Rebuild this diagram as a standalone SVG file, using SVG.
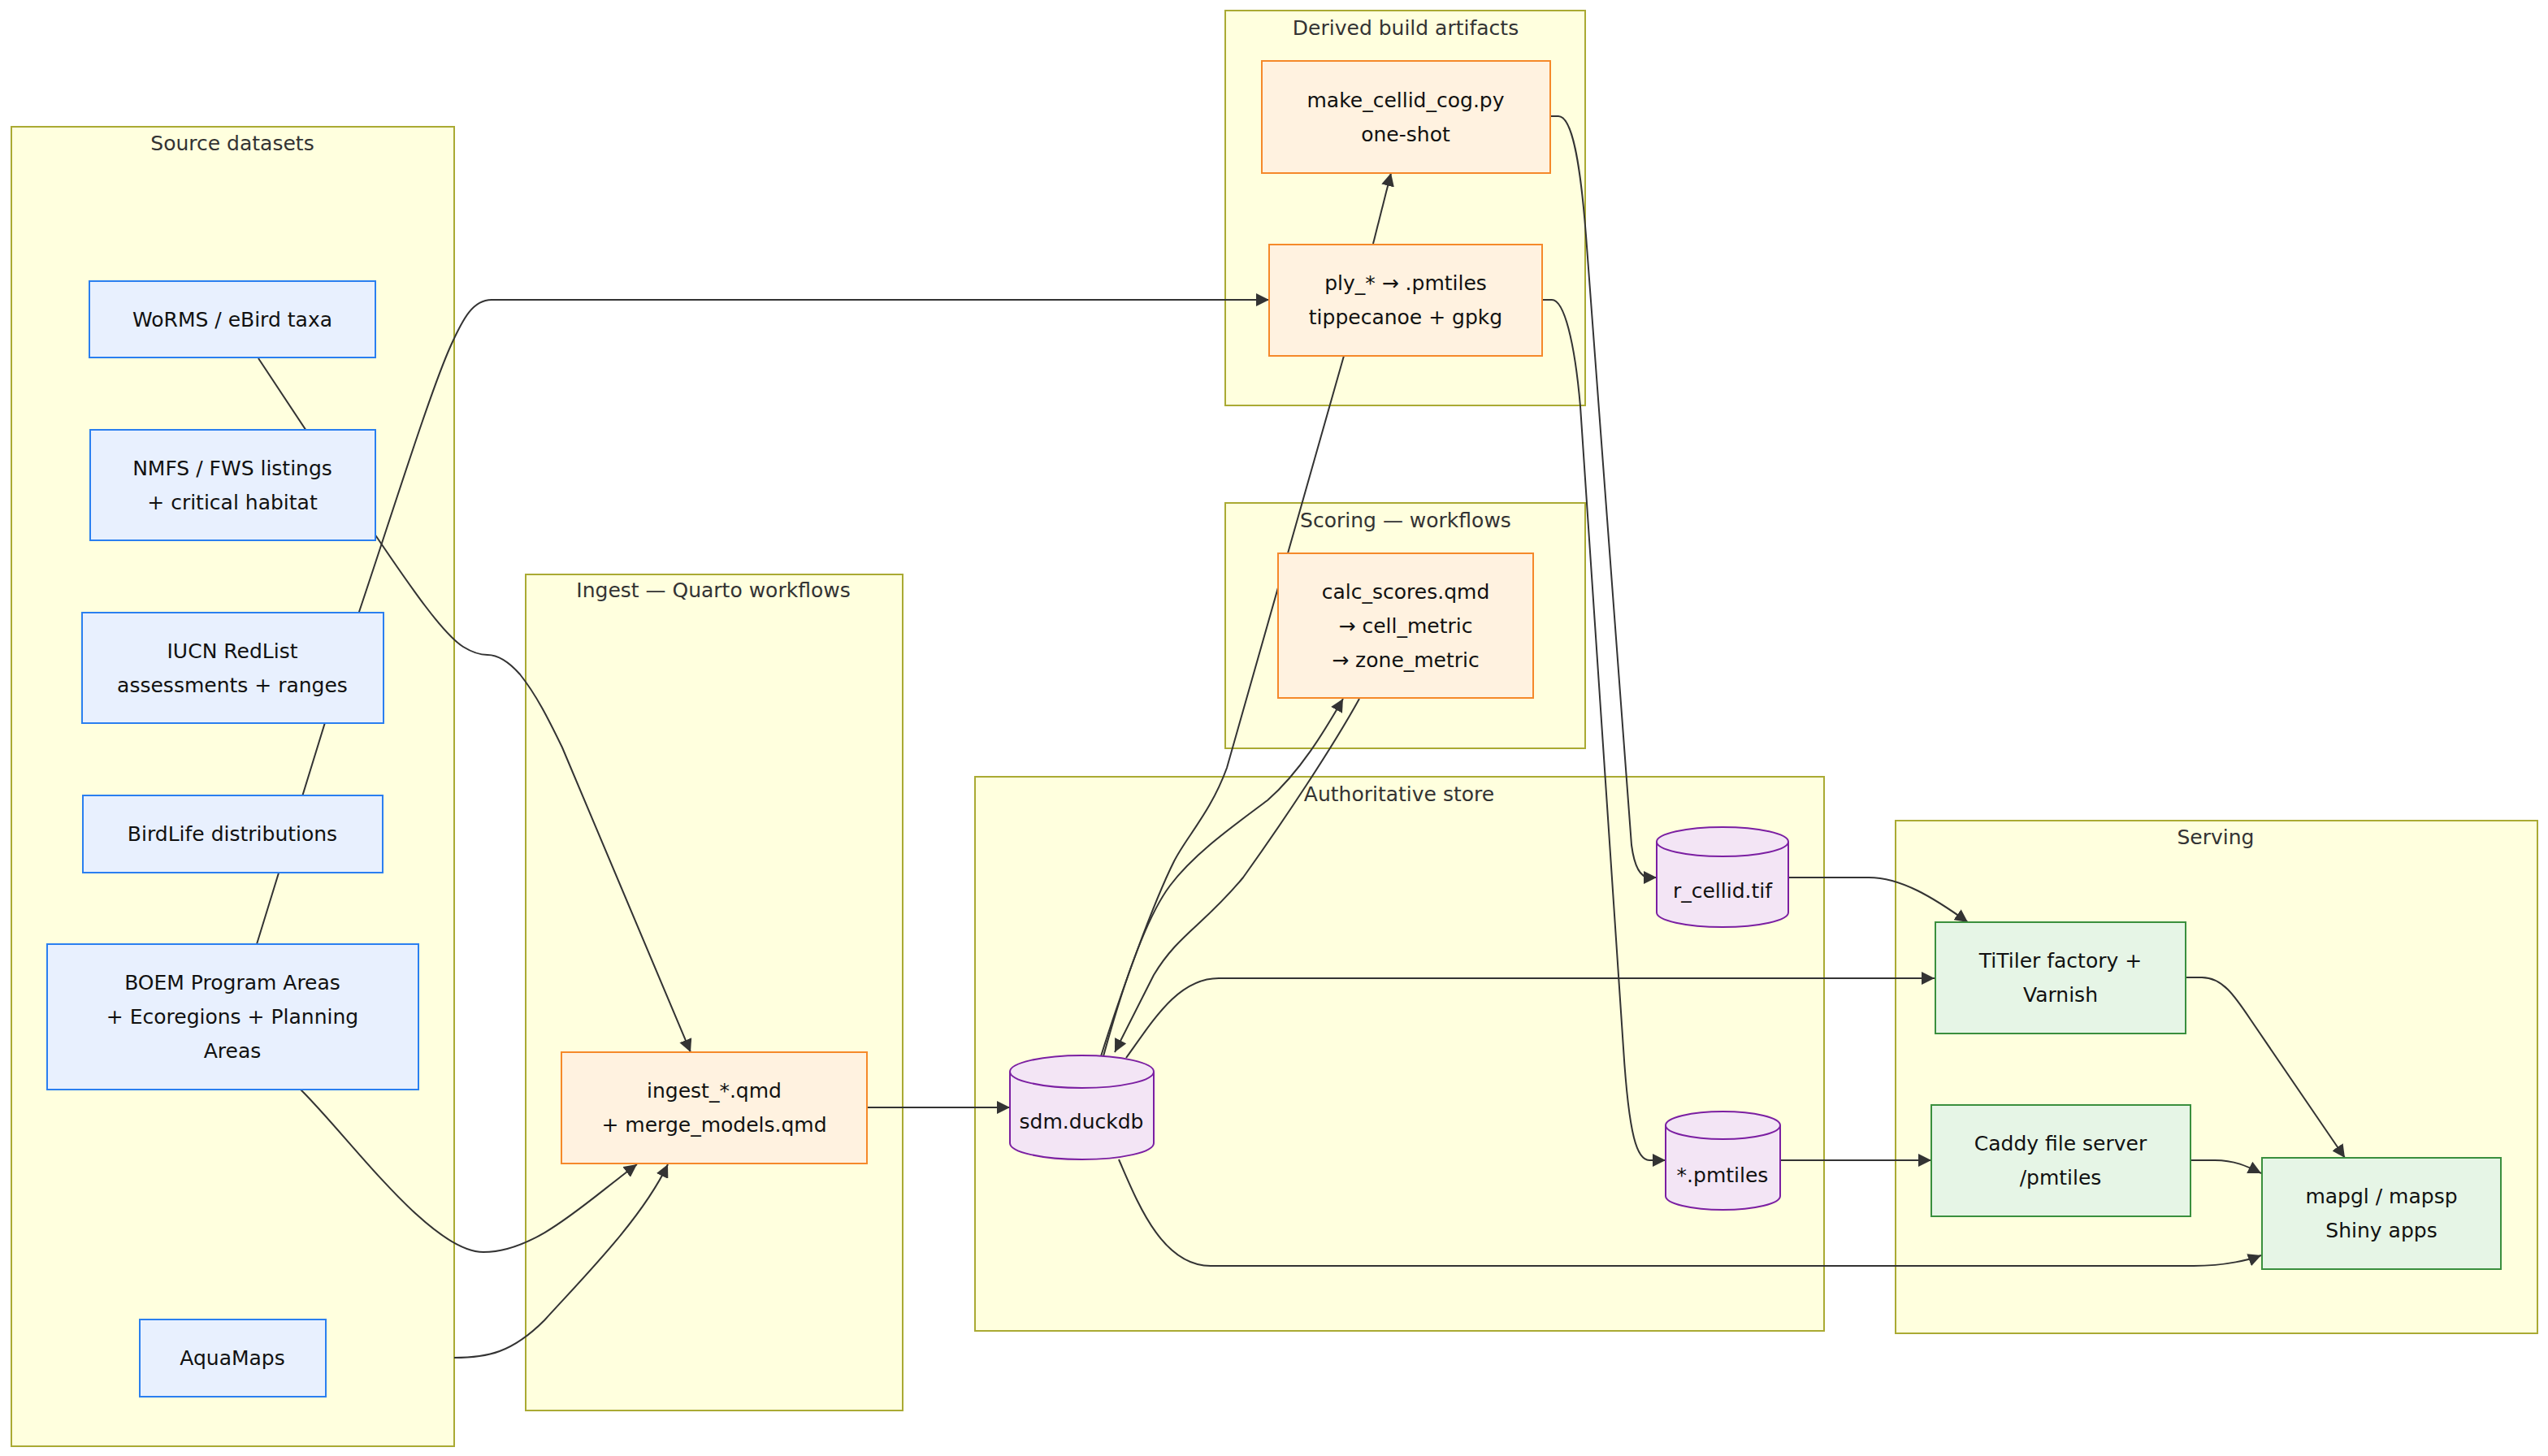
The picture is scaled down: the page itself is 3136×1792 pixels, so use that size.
<svg xmlns="http://www.w3.org/2000/svg" width="3136" height="1792" viewBox="0 0 3136 1792">
<style>
text{font-family:"DejaVu Sans","Verdana",sans-serif;font-size:25px;text-anchor:middle;dominant-baseline:central;fill:#111}
.ct{fill:#333}
.cl{fill:#ffffde;stroke:#aaaa33;stroke-width:2}
.src{fill:#e8f0fe;stroke:#2a7ff0;stroke-width:2}
.job{fill:#fff2e0;stroke:#f5892a;stroke-width:2}
.db{fill:#f3e5f5;stroke:#7b1fa2;stroke-width:2}
.srv{fill:#e6f5e6;stroke:#3a8f3e;stroke-width:2}
.e{fill:none;stroke:#333;stroke-width:2}
.a{marker-end:url(#arr)}
</style>
<defs>
<marker id="arr" viewBox="0 0 10 10" refX="10" refY="5" markerUnits="userSpaceOnUse" markerWidth="16" markerHeight="16" orient="auto">
<path d="M0,0 L10,5 L0,10 z" fill="#333"/>
</marker>
</defs>
<rect width="3136" height="1792" fill="#fff"/>
<g id="clusters">
<g id="cl-source"><rect class="cl" x="14" y="156" width="545" height="1624"/><text class="ct" x="286" y="176">Source datasets</text></g>
<g id="cl-ingest"><rect class="cl" x="647" y="707" width="464" height="1029"/><text class="ct" x="878" y="726">Ingest — Quarto workflows</text></g>
<g id="cl-derived"><rect class="cl" x="1508" y="13" width="443" height="486"/><text class="ct" x="1730" y="34">Derived build artifacts</text></g>
<g id="cl-scoring"><rect class="cl" x="1508" y="619" width="443" height="302"/><text class="ct" x="1730" y="640">Scoring — workflows</text></g>
<g id="cl-store"><rect class="cl" x="1200" y="956" width="1045" height="682"/><text class="ct" x="1722" y="977">Authoritative store</text></g>
<g id="cl-serving"><rect class="cl" x="2333" y="1010" width="790" height="631"/><text class="ct" x="2727" y="1030">Serving</text></g>
</g>
<g id="connectors">
<path class="e a" d="M318,441 L463,660 C505,722 545,780 570,796 C583,804 592,806 600,806 C612,806 624,812 640,830 C660,855 675,885 692,920 L850,1295"/>
<path class="e a" d="M316,1162 L442,753 C480,640 530,480 555,425 C570,392 582,369 605,369 L1562,369"/>
<path class="e a" d="M370,1341 C430,1400 530,1541 595,1541 C660,1541 720,1480 784,1433"/>
<path class="e a" d="M559,1671 C600,1671 630,1665 670,1625 C720,1570 790,1500 822,1433"/>
<path class="e a" d="M1067,1363 L1243,1363"/>
<path class="e a" d="M1690,300 L1712,213"/>
<path class="e a" d="M1908,143 L1918,143 C1935,143 1945,200 1952,290 L2008,1040 C2012,1070 2020,1080 2030,1080 L2039,1080"/>
<path class="e a" d="M1898,369 L1910,369 C1925,369 1938,420 1945,500 L1998,1290 C2005,1400 2015,1428 2030,1428 L2050,1428"/>
<path class="e" d="M1654,438 L1510,945 C1490,1000 1460,1030 1445,1060 C1420,1110 1380,1220 1355,1300"/>
<path class="e a" d="M1358,1300 C1380,1220 1410,1130 1440,1090 C1470,1050 1520,1015 1560,985 C1600,950 1630,900 1653,860"/>
<path class="e a" d="M1673,860 C1640,920 1580,1010 1530,1080 C1480,1140 1450,1150 1420,1200 L1372,1295"/>
<path class="e a" d="M1386,1302 C1420,1255 1450,1204 1500,1204 L2381,1204"/>
<path class="e a" d="M1377,1427 C1400,1480 1430,1558 1490,1558 L2700,1558 C2740,1558 2770,1550 2783,1545"/>
<path class="e a" d="M2201,1080 L2300,1080 C2340,1080 2380,1105 2422,1135"/>
<path class="e a" d="M2191,1428 L2377,1428"/>
<path class="e a" d="M2690,1203 L2710,1203 C2735,1203 2750,1225 2770,1255 L2886,1425"/>
<path class="e a" d="M2696,1428 L2726,1428 C2750,1428 2765,1435 2783,1444"/>
</g>
<g id="n-worms"><rect class="src" x="110" y="346" width="352" height="94"/><text x="286" y="393">WoRMS / eBird taxa</text></g>
<g id="n-nmfs"><rect class="src" x="111" y="529" width="351" height="136"/><text x="286" y="576">NMFS / FWS listings</text><text x="286" y="618">+ critical habitat</text></g>
<g id="n-iucn"><rect class="src" x="101" y="754" width="371" height="136"/><text x="286" y="801">IUCN RedList</text><text x="286" y="843">assessments + ranges</text></g>
<g id="n-birdlife"><rect class="src" x="102" y="979" width="369" height="95"/><text x="286" y="1026">BirdLife distributions</text></g>
<g id="n-boem"><rect class="src" x="58" y="1162" width="457" height="179"/><text x="286" y="1209">BOEM Program Areas</text><text x="286" y="1251">+ Ecoregions + Planning</text><text x="286" y="1293">Areas</text></g>
<g id="n-aquamaps"><rect class="src" x="172" y="1624" width="229" height="95"/><text x="286" y="1671">AquaMaps</text></g>
<g id="n-ingest"><rect class="job" x="691" y="1295" width="376" height="137"/><text x="879" y="1342">ingest_*.qmd</text><text x="879" y="1384">+ merge_models.qmd</text></g>
<g id="n-make"><rect class="job" x="1553" y="75" width="355" height="138"/><text x="1730" y="123">make_cellid_cog.py</text><text x="1730" y="165">one-shot</text></g>
<g id="n-ply"><rect class="job" x="1562" y="301" width="336" height="137"/><text x="1730" y="348">ply_* → .pmtiles</text><text x="1730" y="390">tippecanoe + gpkg</text></g>
<g id="n-calc"><rect class="job" x="1573" y="681" width="314" height="178"/><text x="1730" y="728">calc_scores.qmd</text><text x="1730" y="770">→ cell_metric</text><text x="1730" y="812">→ zone_metric</text></g>
<g id="n-sdm"><path class="db" d="M1243,1319 a88.5,20 0 0,0 177,0 a88.5,20 0 0,0 -177,0 l0,88 a88.5,20 0 0,0 177,0 l0,-88"/><text x="1331" y="1380">sdm.duckdb</text></g>
<g id="n-rcellid"><path class="db" d="M2039,1036 a81,18 0 0,0 162,0 a81,18 0 0,0 -162,0 l0,87 a81,18 0 0,0 162,0 l0,-87"/><text x="2120" y="1096">r_cellid.tif</text></g>
<g id="n-pmtiles"><path class="db" d="M2050,1385 a70.5,17 0 0,0 141,0 a70.5,17 0 0,0 -141,0 l0,87 a70.5,17 0 0,0 141,0 l0,-87"/><text x="2120" y="1446">*.pmtiles</text></g>
<g id="n-titiler"><rect class="srv" x="2382" y="1135" width="308" height="137"/><text x="2536" y="1182">TiTiler factory +</text><text x="2536" y="1224">Varnish</text></g>
<g id="n-caddy"><rect class="srv" x="2377" y="1360" width="319" height="137"/><text x="2536" y="1407">Caddy file server</text><text x="2536" y="1449">/pmtiles</text></g>
<g id="n-mapgl"><rect class="srv" x="2784" y="1425" width="294" height="137"/><text x="2931" y="1472">mapgl / mapsp</text><text x="2931" y="1514">Shiny apps</text></g>
</svg>
